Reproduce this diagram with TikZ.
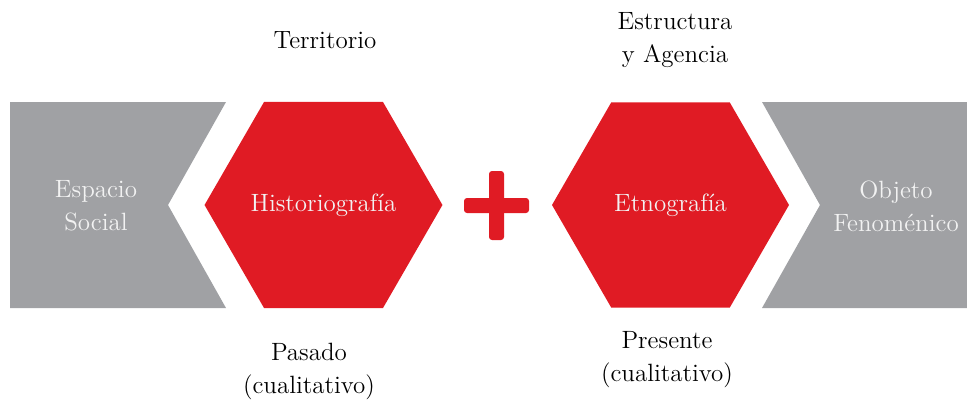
\documentclass[tikz,border=0pt]{standalone}
\usetikzlibrary{shapes.geometric,positioning}
\definecolor{hexred}{RGB}{224,27,36}
\definecolor{bandgray}{RGB}{160,161,164}
\definecolor{softwhite}{RGB}{242,242,242}
\newcommand{\notefont}{\fontsize{12.5}{16.5}\selectfont}

\begin{document}
\begin{tikzpicture}[x=0.5pt,y=-0.5pt,
    hex/.style={regular polygon,regular polygon sides=6,fill=hexred,
      minimum size=118.5pt,inner sep=0pt,text=softwhite,font=\notefont},
    band/.style={fill=bandgray},
    note/.style={align=center,font=\notefont},
    bandtext/.style={note,text=softwhite},
    bar/.style={fill=hexred,rounded corners=1.5pt}]
   \useasboundingbox (0,0) rectangle (967,401);
   % gray bands
   \fill[band] (10,102) -- (226,102) -- (168,205) -- (226,308) -- (10,308) -- cycle;
   \fill[band] (762,102) -- (967,102) -- (967,308) -- (762,308) -- (820,205) -- cycle;
   \node[bandtext] (esp) at (96,206) {Espacio\\Social};
   \node[bandtext] (obj) at (896,206) {Objeto\\Fenoménico};
   % hexagons
   \node[hex] (hist) at (323.5,205) {Historiografía};
   \node[hex] (etno) at (670.5,205) {Etnografía};
   % plus sign
   \fill[bar] (464,198) rectangle (529,213);
   \fill[bar] (489,171) rectangle (504,240);
   % labels
   \node[note] (terr) at (325,40) {Territorio};
   \node[note] (estr) at (675,40) {Estructura\\y Agencia};
   \node[note] (pas)  at (309,371) {Pasado\\(cualitativo)};
   \node[note] (pres) at (667,360) {Presente\\(cualitativo)};
\end{tikzpicture}
\end{document}
